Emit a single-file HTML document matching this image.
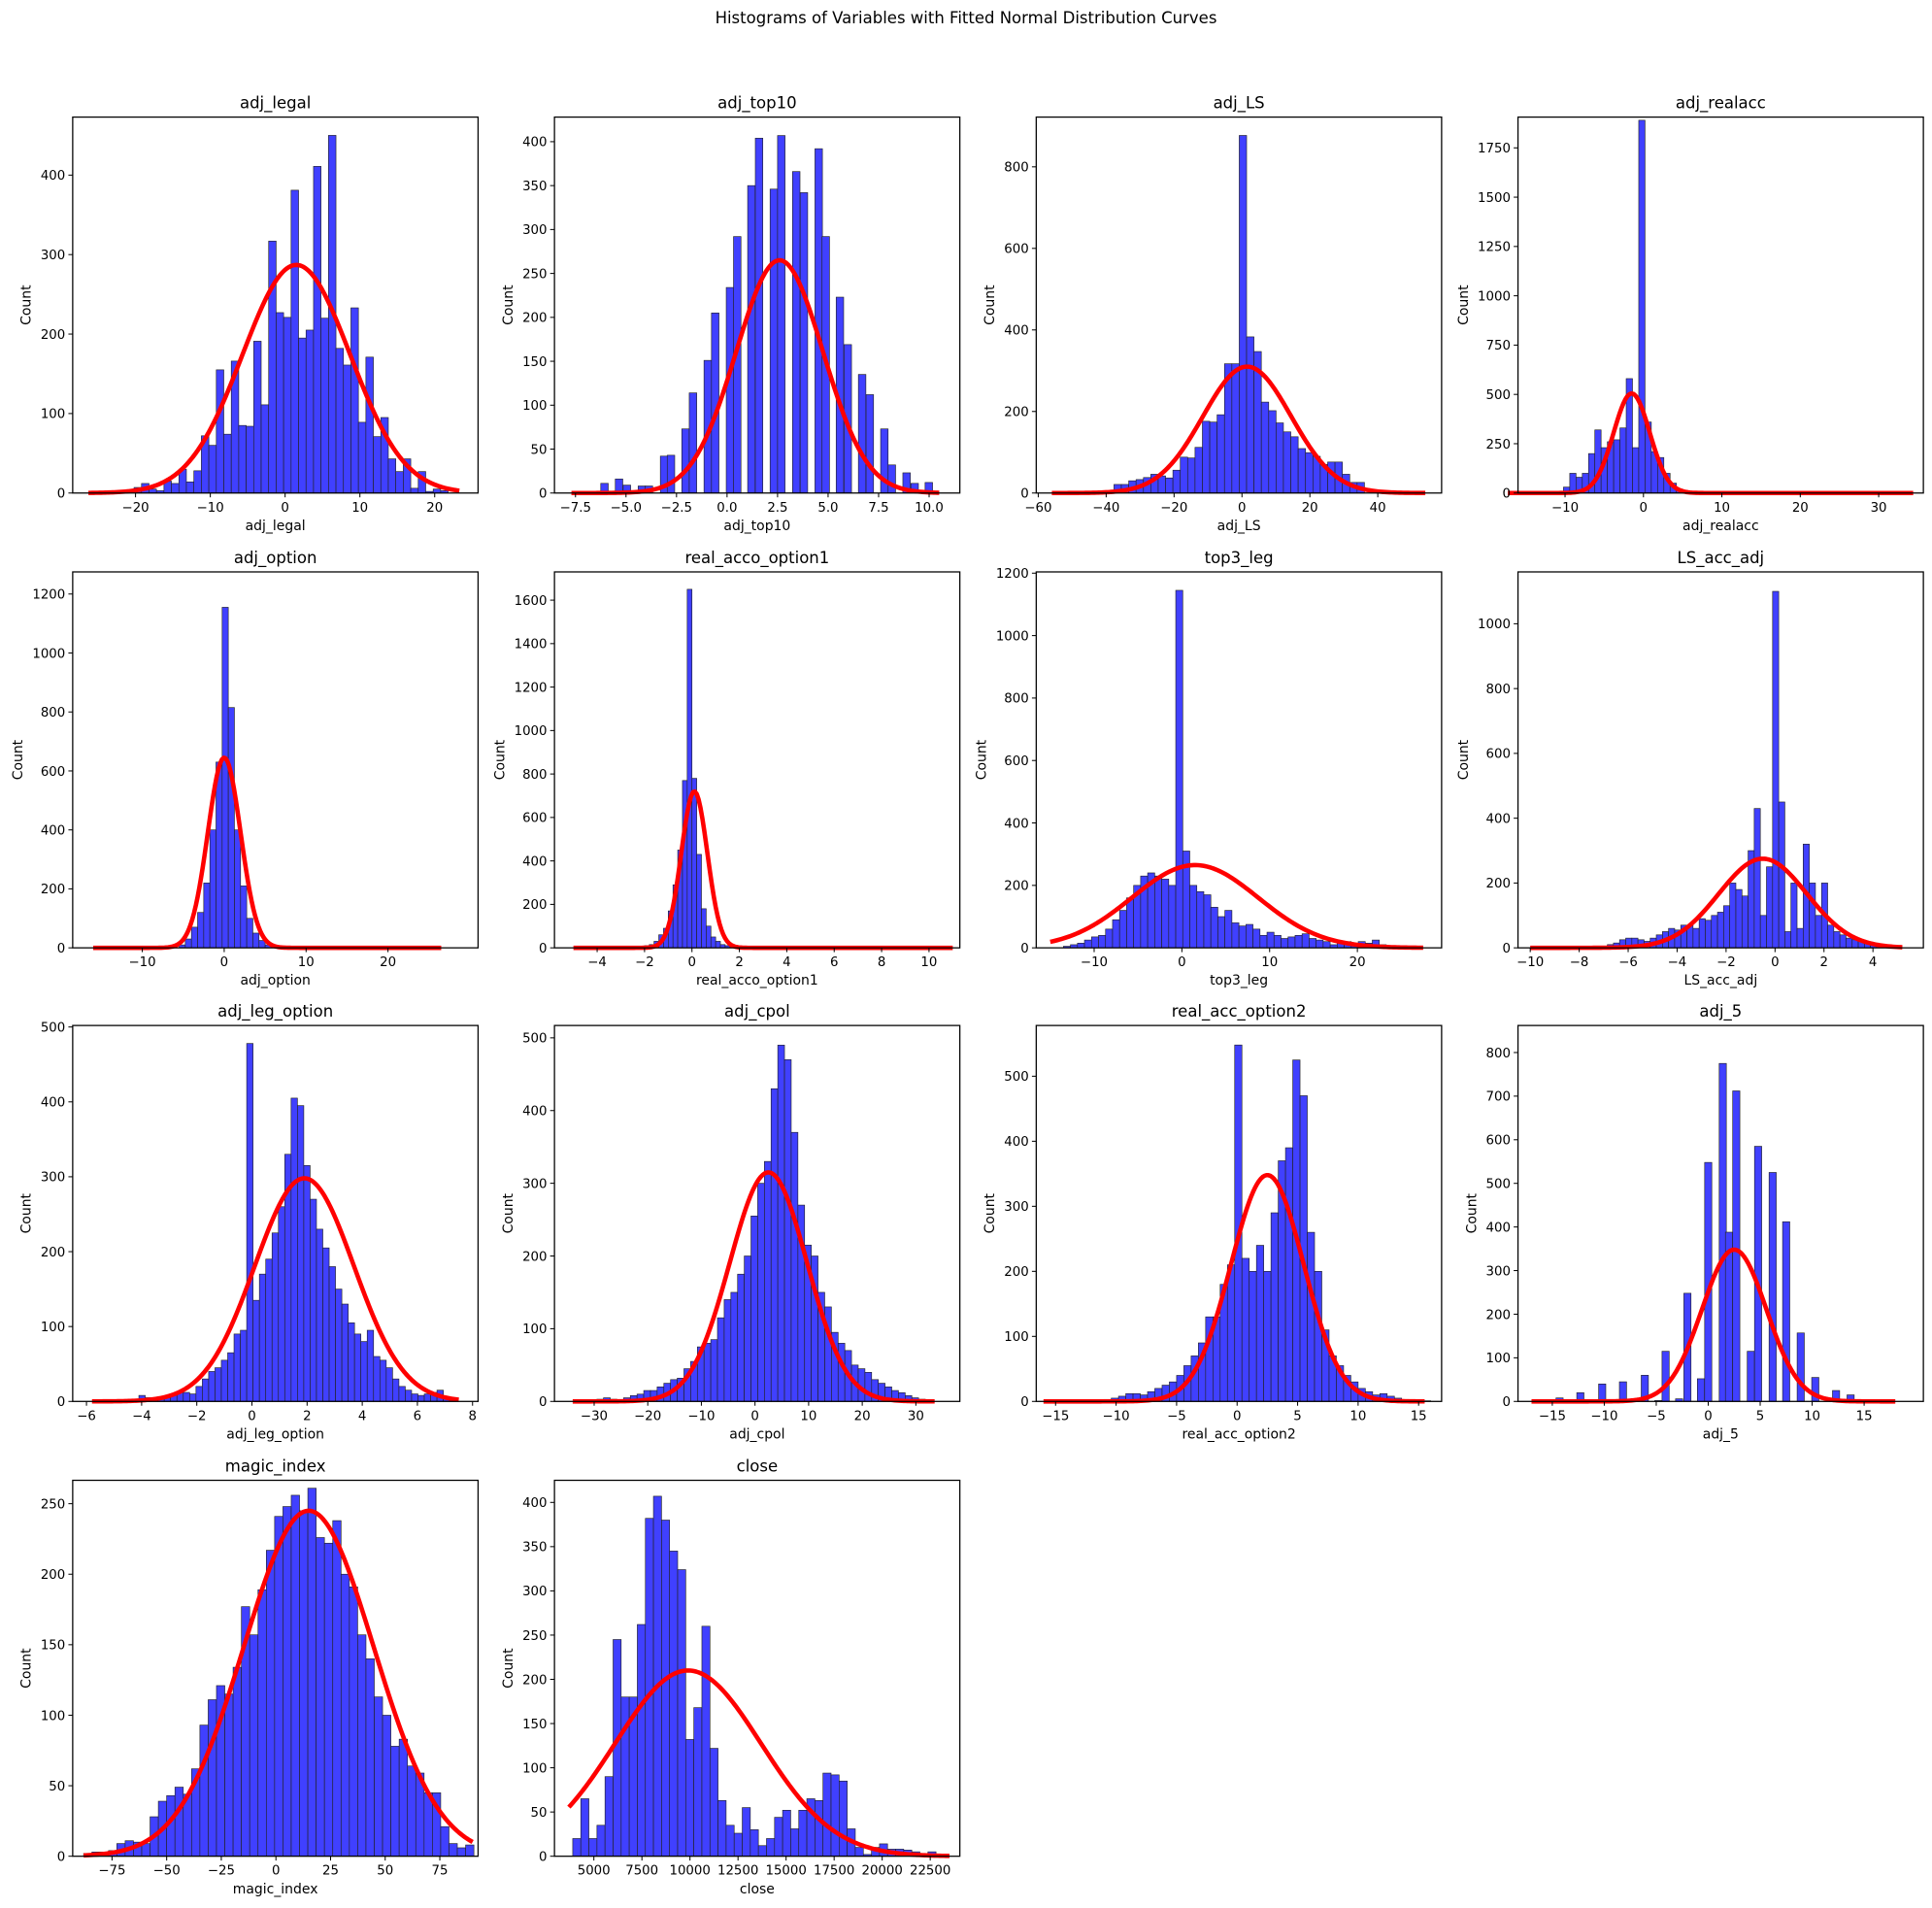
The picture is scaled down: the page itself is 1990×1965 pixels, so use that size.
<!DOCTYPE html>
<html><head><meta charset="utf-8"><style>
html,body{margin:0;padding:0;background:#fff;}
svg{display:block;}
text{font-family:"DejaVu Sans","Liberation Sans",sans-serif;fill:#000;}
</style></head><body>
<svg id="s" width="1990" height="1965" viewBox="0 0 1568 1548" preserveAspectRatio="none" xmlns="http://www.w3.org/2000/svg">
<rect width="1568" height="1548" fill="#fff"/>
<text x="784" y="19" font-size="13" text-anchor="middle">Histograms of Variables with Fitted Normal Distribution Curves</text>
</svg>
<script>
const L=[59,450,841,1232],T=[95,464,832,1201],W=329,H=305;
function rng(a,b,s){let r=[];for(let v=a;v<=b+1e-9;v+=s)r.push(+v.toFixed(6));return r;}
function seq(x0,w,h){return h.map((v,i)=>[x0+i*w,v]);}
const P=[
{n:"adj_legal",xr:[-28.4,25.8],ym:473,xt:[-20,-10,0,10,20],yt:rng(0,400,100),w:1.0,b:seq(-20.2,1.0,[7,12,5,3,15,12,30,14,28,72,60,155,74,166,85,84,191,111,317,227,221,381,195,205,411,220,450,182,161,233,89,171,71,95,43,27,43,6,27,2,5,3]),c:[1.5,7.2,287,-26.3,23.3]},
{n:"adj_top10",xr:[-8.54,11.52],ym:428,xt:[-7.5,-5,-2.5,0,2.5,5,7.5,10],xf:1,yt:rng(0,400,50),w:0.37,b:[[-6.25,11],[-5.53,16],[-5.14,9],[-4.4,8],[-4.05,8],[-3.3,42],[-2.96,43],[-2.24,73],[-1.87,114],[-1.14,151],[-0.77,205],[-0.04,234],[0.32,292],[1.02,350],[1.4,404],[2.13,346],[2.5,407],[3.24,366],[3.62,342],[4.35,392],[4.7,292],[5.4,223],[5.79,169],[6.5,135],[6.88,112],[7.6,73],[7.97,32],[8.7,23],[9.1,11],[9.8,12]],c:[2.6,2.15,265,-7.7,10.5]},
{n:"adj_LS",xr:[-60.6,58.8],ym:922,xt:[-60,-40,-20,0,20,40],yt:rng(0,800,200),w:2.17,b:seq(-37.7,2.17,[21,21,30,33,38,46,42,37,56,88,86,112,176,174,192,317,317,877,383,347,223,202,172,150,138,109,99,90,70,76,76,46,26,26]),c:[1.5,13,310,-56,54]},
{n:"adj_realacc",xr:[-16,35.7],ym:1906,xt:[-10,0,10,20,30],yt:rng(0,1750,250),w:0.8,b:seq(-10.2,0.8,[30,100,80,100,200,320,230,260,270,330,580,230,1890,360,210,180,100,50,20,5]),c:[-1.5,2.3,505,-17.3,34.4]},
{n:"adj_option",xr:[-18.5,31],ym:1275,xt:[-10,0,10,20],yt:rng(0,1200,200),w:0.75,b:seq(-5.5,0.75,[10,30,70,120,220,400,630,1155,815,400,210,100,50,25,10,5,3,2]),c:[0,2,645,-16,26.5]},
{n:"real_acco_option1",xr:[-5.8,11.3],ym:1730,xt:[-4,-2,0,2,4,6,8,10],yt:rng(0,1600,200),w:0.2,b:seq(-2.2,0.2,[5,10,15,30,60,90,170,290,450,770,1650,780,430,180,100,50,30,15,10,5,3,2]),c:[0.1,0.55,720,-5,11]},
{n:"top3_leg",xr:[-16.6,29.6],ym:1204,xt:[-10,0,10,20],yt:rng(0,1200,200),w:0.8,b:seq(-13.5,0.8,[5,10,15,25,35,40,60,90,120,160,200,230,240,230,220,200,1145,310,200,180,170,130,100,120,80,70,75,60,40,50,40,30,35,40,45,30,25,20,10,15,20,10,20,15,25,10,5,3]),c:[1.5,7.2,265,-15,27.5]},
{n:"LS_acc_adj",xr:[-10.5,6.06],ym:1160,xt:[-10,-8,-6,-4,-2,0,2,4],yt:rng(0,1000,200),w:0.25,b:seq(-7.1,0.25,[5,10,15,25,30,30,25,20,30,40,50,60,55,70,70,60,90,85,100,110,130,200,180,160,300,430,100,250,1100,450,50,200,60,320,200,100,200,70,50,40,30,25,20,15,10,5,5,3,2]),c:[-0.5,1.8,275,-10,5.2]},
{n:"adj_leg_option",xr:[-6.5,8.2],ym:502,xt:[-6,-4,-2,0,2,4,6,8],yt:rng(0,500,100),w:0.23,b:seq(-4.1,0.23,[8,5,3,5,5,10,12,12,10,20,30,40,45,55,65,90,95,478,135,170,190,225,260,330,405,395,315,270,230,205,180,150,130,105,90,80,95,60,55,45,30,20,15,10,8,10,12,15,5,3]),c:[1.9,1.8,298,-5.8,7.5]},
{n:"adj_cpol",xr:[-37.4,38.2],ym:517,xt:[-30,-20,-10,0,10,20,30],yt:rng(0,500,100),w:1.25,b:seq(-29.5,1.25,[3,5,3,2,5,8,10,15,15,20,25,30,32,45,55,75,80,85,115,140,150,175,200,255,300,330,430,490,470,370,270,215,200,150,130,95,80,70,50,45,40,30,25,20,15,12,8,5,3,2]),c:[2.5,7.2,315,-34,33.5]},
{n:"real_acc_option2",xr:[-16.6,16.9],ym:578,xt:[-15,-10,-5,0,5,10,15],yt:rng(0,500,100),w:0.6,b:seq(-11,0.6,[3,5,8,12,12,10,15,20,25,30,40,55,70,90,130,130,180,210,548,220,200,240,200,290,370,390,525,470,260,200,110,70,55,40,30,20,15,10,12,8,5,3,2,1,1]),c:[2.5,3,348,-16,15.5]},
{n:"adj_5",xr:[-18.3,20.7],ym:862,xt:[-15,-10,-5,0,5,10,15],yt:rng(0,800,100),w:0.69,b:[[-14.3,8],[-12.3,20],[-10.2,40],[-8.2,45],[-6.1,60],[-4.8,2],[-4.1,115],[-2.8,6],[-2.0,248],[-0.7,52],[0,548],[1.4,775],[2.0,388],[2.7,712],[4.1,115],[4.8,585],[6.2,525],[7.5,412],[8.9,157],[10.3,55],[12.3,25],[13.7,15]].map(p=>[p[0]-0.345,p[1]]),c:[2.5,3.1,348,-17,18]},
{n:"magic_index",xr:[-93,92.5],ym:266.6,xt:[-75,-50,-25,0,25,50,75],yt:rng(0,250,50),w:3.8,b:seq(-88,3.8,[2,3,3,4,9,11,10,9,28,39,43,49,44,62,93,111,121,115,134,177,157,189,217,241,248,256,245,261,226,222,238,200,191,157,140,113,100,78,83,64,59,45,45,21,9,6,8]),c:[15,29.7,245,-88,90]},
{n:"close",xr:[2950,24040],ym:425,xt:[5000,7500,10000,12500,15000,17500,20000,22500],yt:rng(0,400,50),w:420,b:seq(3900,420,[20,65,20,35,90,245,180,180,262,382,407,380,345,324,132,168,260,122,63,35,26,55,30,12,20,44,52,31,52,65,63,94,92,85,31,10,2,10,14,8,8,7,5,3,5,2]),c:[9900,3800,210,3700,23500]}
];
const NS="http://www.w3.org/2000/svg",S=document.getElementById("s");
function el(t,a,txt){const e=document.createElementNS(NS,t);for(const k in a)e.setAttribute(k,a[k]);if(txt!==undefined)e.textContent=txt;S.appendChild(e);return e;}
function fmt(v,f){let s=f?v.toFixed(1):String(v);return s.replace("-","\u2212");}
P.forEach((p,i)=>{
 const l=L[i%4],t=T[Math.floor(i/4)],bt=t+H;
 const X=v=>l+(v-p.xr[0])/(p.xr[1]-p.xr[0])*W, Y=v=>bt-v/p.ym*H;
 el("text",{x:l+W/2,y:t-7,"font-size":"13","text-anchor":"middle"},p.n);
 p.b.forEach(([x,h])=>{if(h<=0)return;const x1=X(x),x2=X(x+p.w);el("rect",{x:x1.toFixed(2),y:Y(h).toFixed(2),width:(x2-x1).toFixed(2),height:(bt-Y(h)).toFixed(2),fill:"#4040ff",stroke:"#222","stroke-width":"0.5"});});
 const [mu,s,pk,a,b]=p.c;let d="";for(let k=0;k<=200;k++){const x=a+(b-a)*k/200,y=pk*Math.exp(-((x-mu)**2)/(2*s*s));d+=(k?"L":"M")+X(x).toFixed(2)+" "+Y(y).toFixed(2);}
 el("path",{d:d,fill:"none",stroke:"#ff0000","stroke-width":"3.6","stroke-linejoin":"round"});
 el("rect",{x:l,y:t,width:W,height:H,fill:"none",stroke:"#000","stroke-width":"1"});
 p.xt.forEach(v=>{const x=X(v);el("line",{x1:x,y1:bt,x2:x,y2:bt+3.5,stroke:"#000","stroke-width":"0.8"});el("text",{x:x,y:bt+15,"font-size":"10.5","text-anchor":"middle"},fmt(v,p.xf));});
 p.yt.forEach(v=>{const y=Y(v);el("line",{x1:l,y1:y,x2:l-3.5,y2:y,stroke:"#000","stroke-width":"0.8"});el("text",{x:l-6,y:y+3.8,"font-size":"10.5","text-anchor":"end"},fmt(v));});
 el("text",{x:l+W/2,y:bt+30,"font-size":"11","text-anchor":"middle"},p.n);
 const mw=String(Math.max(...p.yt)).length*6.7;
 const cx=l-mw-14;el("text",{x:cx,y:t+H/2,"font-size":"11","text-anchor":"middle",transform:`rotate(-90 ${cx} ${t+H/2})`},"Count");
});
</script>
</body></html>
